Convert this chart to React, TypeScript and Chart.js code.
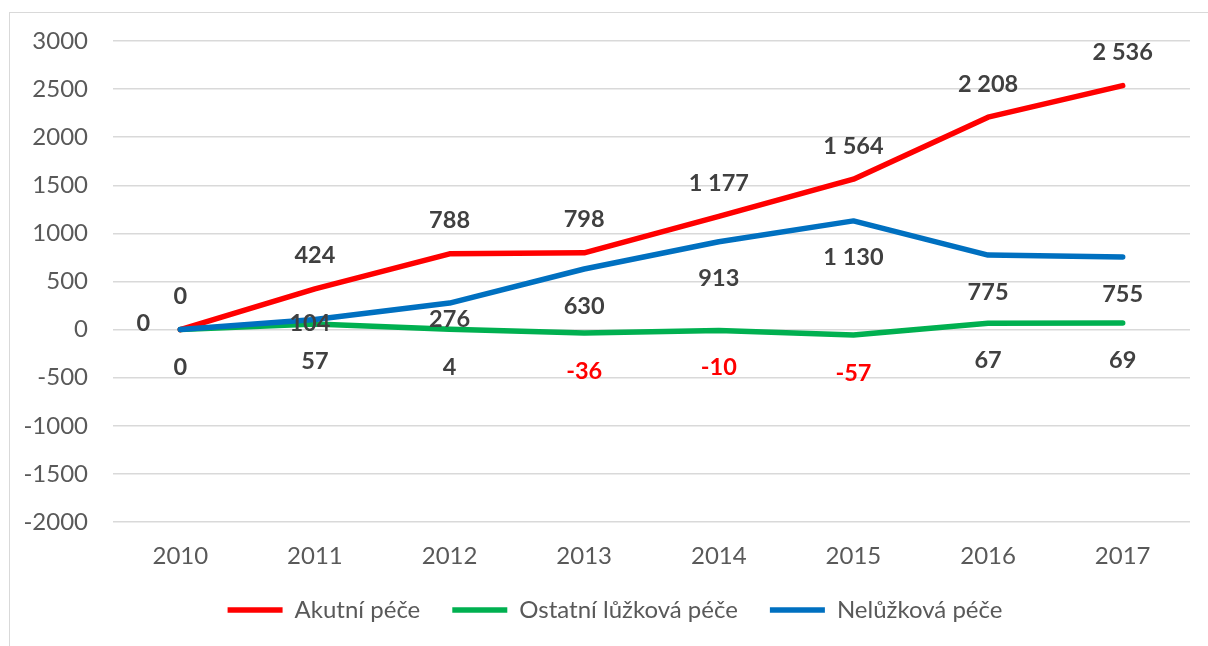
import React, { useEffect, useRef } from "react";
import { Chart, registerables } from "chart.js";

Chart.register(...registerables);

const years = ["2010", "2011", "2012", "2013", "2014", "2015", "2016", "2017"];
const akutni = [0, 424, 788, 798, 1177, 1564, 2208, 2536];
const ostatni = [0, 57, 4, -36, -10, -57, 67, 69];
const neluzkova = [0, 104, 276, 630, 913, 1130, 775, 755];
const seriesNames = ["Akutní péče", "Ostatní lůžková péče", "Nelůžková péče"];
const seriesColors = ["#FF0000", "#00B050", "#0070C0"];
const yMin = -2000;
const yMax = 3000;
const yStep = 500;

// label offsets (style only)
const akutniLabelDX = [0, 0, 0, 0, 0, 0, 0, 0];
const akutniLabelDY = [-33, -33, -33, -33, -33, -33, -33, -33];
const ostatniLabelDX = [0, 0, 0, 0, 0, 0, 0, 0];
const ostatniLabelDY = [38, 37, 38, 38, 37, 38, 37, 37];
const neluzLabelDX = [-37, -5, 0, 0, 0, 0, 0, 0];
const neluzLabelDY = [-6, 4, 16, 37, 37, 37, 37, 37];

const FONT = "Lato, 'Open Sans', sans-serif";

function fmt(v: number): string {
  const s = Math.abs(v).toString();
  const withSp = s.replace(/\B(?=(\d{3})+(?!\d))/g, " ");
  return (v < 0 ? "-" : "") + withSp;
}

const labelsPlugin = {
  id: "pointLabels",
  afterDatasetsDraw(chart: any) {
    const ctx = chart.ctx;
    const offsets = [
      [akutniLabelDX, akutniLabelDY],
      [ostatniLabelDX, ostatniLabelDY],
      [neluzLabelDX, neluzLabelDY],
    ];
    ctx.save();
    ctx.font = `bold 23.5px ${FONT}`;
    ctx.textAlign = "center";
    ctx.textBaseline = "middle";
    chart.data.datasets.forEach((ds: any, di: number) => {
      const meta = chart.getDatasetMeta(di);
      meta.data.forEach((pt: any, i: number) => {
        const v = ds.data[i];
        const [dx, dy] = offsets[di];
        ctx.fillStyle = di === 1 && v < 0 ? "#FF0000" : "#404040";
        ctx.fillText(fmt(v), pt.x + dx[i], pt.y + dy[i]);
      });
    });
    ctx.restore();
  },
};

export default function App() {
  const ref = useRef<HTMLCanvasElement | null>(null);
  useEffect(() => {
    if (!ref.current) return;
    const chart = new Chart(ref.current, {
      type: "line",
      data: {
        labels: years,
        datasets: [
          { label: seriesNames[0], data: akutni, order: 1 },
          { label: seriesNames[1], data: ostatni, order: 2 },
          { label: seriesNames[2], data: neluzkova, order: 0 },
        ].map((d, i) => ({
          ...d,
          borderColor: seriesColors[i],
          backgroundColor: seriesColors[i],
          borderWidth: 5.5,
          borderCapStyle: "round" as const,
          borderJoinStyle: "round" as const,
          pointRadius: 0,
          pointHoverRadius: 0,
          pointStyle: "line" as const,
          tension: 0,
          fill: false,
        })),
      },
      options: {
        animation: false,
        responsive: false,
        maintainAspectRatio: false,
        layout: { padding: { left: 40, top: 41, right: 18, bottom: 14 } },
        plugins: {
          tooltip: { enabled: false },
          legend: {
            position: "bottom",
            labels: {
              usePointStyle: true,
              pointStyleWidth: 55,
              boxHeight: 6,
              padding: 32,
              color: "#595959",
              font: { family: FONT, size: 24 },
              sort: (a: any, b: any) => a.datasetIndex - b.datasetIndex,
            },
          },
        },
        scales: {
          x: {
            offset: true,
            grid: { display: false, drawTicks: false },
            border: { display: false },
            ticks: {
              color: "#595959",
              font: { family: FONT, size: 24 },
              padding: 20,
              maxRotation: 0,
            },
            afterFit: (s: any) => {
              s.height = 44;
            },
          },
          y: {
            min: yMin,
            max: yMax,
            grid: { color: "#D9D9D9", lineWidth: 1.5, drawTicks: false },
            border: { display: false },
            ticks: {
              stepSize: yStep,
              color: "#595959",
              font: { family: FONT, size: 24 },
              padding: 25,
              callback: (v: any) => String(v),
            },
            afterFit: (s: any) => {
              s.width = 73;
              s._computeLabelArea = () => undefined;
            },
          },
        },
      },
      plugins: [labelsPlugin],
    });
    return () => chart.destroy();
  }, []);
  return (
    <div style={{ position: "absolute", left: 0, top: 0, width: 1208, height: 646, overflow: "hidden", background: "#fff" }}>
      <div
        style={{
          position: "absolute",
          left: 9,
          top: 12,
          width: 1300,
          height: 700,
          borderLeft: "1.5px solid #D9D9D9",
          borderTop: "1.5px solid #D9D9D9",
        }}
      />
      <canvas ref={ref} width={1208} height={646} style={{ position: "absolute", left: 0, top: 0 }} />
    </div>
  );
}
